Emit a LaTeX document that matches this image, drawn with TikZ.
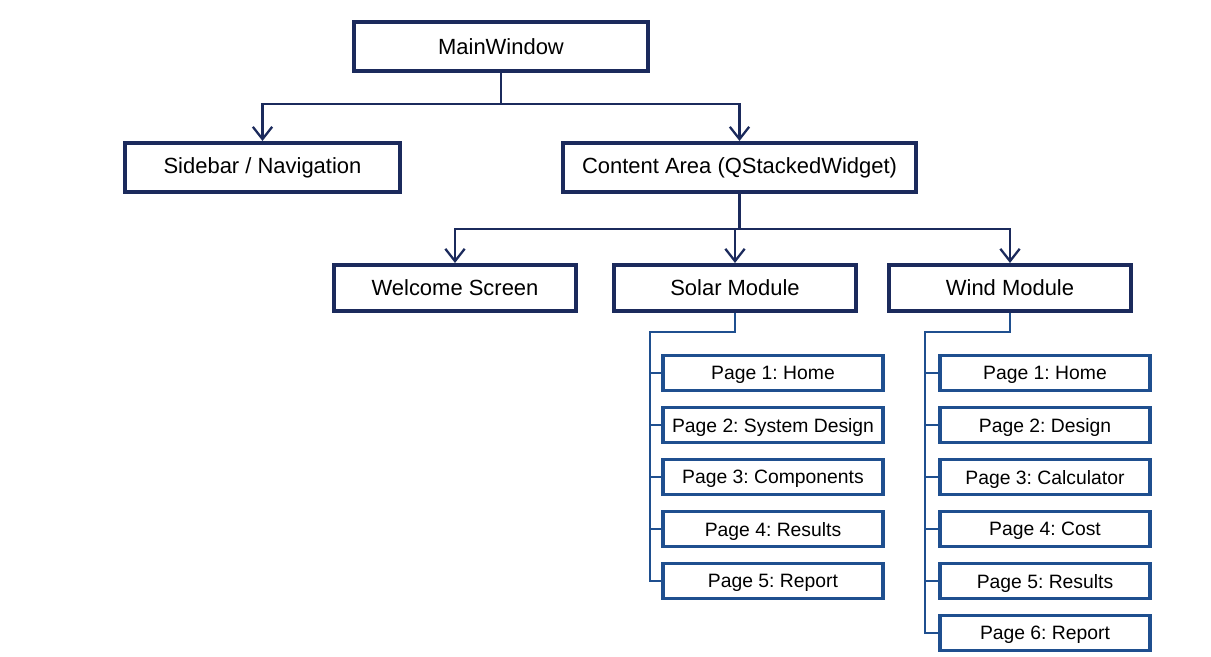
\documentclass[tikz,border=0pt]{standalone}
\usepackage{fontspec}
\setmainfont{Liberation Sans}
\usetikzlibrary{arrows.meta, positioning}

\definecolor{navy}{HTML}{1B2A5C}
\definecolor{pageblue}{HTML}{1F4F8F}

\begin{document}
\frenchspacing
\begin{tikzpicture}[
  node distance = 0.27cm,
  topbox/.style  = {draw=navy, line width=2.3pt, fill=white, rectangle,
                    minimum height=0.98cm,
                    align=center, font=\fontsize{12.5}{14}\selectfont},
  modbox/.style  = {topbox, minimum height=0.92cm, minimum width=4.84cm},
  pagebox/.style = {draw=pageblue, line width=2pt, fill=white, rectangle,
                    minimum height=0.7cm, inner xsep=2pt, text depth=0pt,
                    align=center, font=\fontsize{11}{13}\selectfont},
  solarpg/.style = {pagebox, minimum width=4.4cm},
  windpg/.style  = {pagebox, minimum width=4.2cm},
  arr/.style     = {-{Straight Barb[length=7pt, width=11pt]},
                    line width=1.3pt, draw=navy},
  link/.style    = {line width=1.3pt, draw=pageblue}
]

\useasboundingbox (0,0) rectangle (24.22,-13.14);

%── Top level ─────────────────────────────────────────────────────────────
\node[topbox, minimum width=5.88cm] (main) at (10.02,-0.93) {MainWindow};

\node[topbox, minimum width=5.5cm] (sidebar) at (5.25,-3.35)
  {Sidebar / Navigation};

\node[topbox, minimum width=7.06cm] (content) at (14.79,-3.35)
  {Content Area (QStackedWidget)};

%── Stacked pages ─────────────────────────────────────────────────────────
\node[modbox] (welcome) at (9.10,-5.76) {Welcome Screen};
\node[modbox] (solar)   at (14.70,-5.76) {Solar Module};
\node[modbox] (wind)    at (20.20,-5.76) {Wind Module};

%── Solar pages ───────────────────────────────────────────────────────────
\node[solarpg] (sp1) at (15.46,-7.46) {Page 1: Home};
\node[solarpg, below=of sp1] (sp2) {Page 2: System Design};
\node[solarpg, below=of sp2] (sp3) {Page 3: Components};
\node[solarpg, below=of sp3] (sp4) {Page 4: Results};
\node[solarpg, below=of sp4] (sp5) {Page 5: Report};

%── Wind pages ────────────────────────────────────────────────────────────
\node[windpg] (wp1) at (20.90,-7.46) {Page 1: Home};
\node[windpg, below=of wp1] (wp2) {Page 2: Design};
\node[windpg, below=of wp2] (wp3) {Page 3: Calculator};
\node[windpg, below=of wp3] (wp4) {Page 4: Cost};
\node[windpg, below=of wp4] (wp5) {Page 5: Results};
\node[windpg, below=of wp5] (wp6) {Page 6: Report};

%── Arrows ────────────────────────────────────────────────────────────────
\draw[arr] (main.south) -- ++(0,-0.62) -| (sidebar.north);
\draw[arr] (main.south) -- ++(0,-0.62) -| (content.north);

\draw[arr] (content.south) -- ++(0,-0.7) -| (welcome.north);
\draw[arr] (content.south) -- ++(0,-0.7) -| (solar.north);
\draw[arr] (content.south) -- ++(0,-0.7) -| (wind.north);

%── Page links ────────────────────────────────────────────────────────────
\coordinate (strunk) at (13.0,-6.64);
\draw[link] (solar.south) |- (strunk) -- (strunk |- sp5.west) -- (sp5.west);
\draw[link] (strunk |- sp1.west) -- (sp1.west);
\draw[link] (strunk |- sp2.west) -- (sp2.west);
\draw[link] (strunk |- sp3.west) -- (sp3.west);
\draw[link] (strunk |- sp4.west) -- (sp4.west);

\coordinate (wtrunk) at (18.5,-6.64);
\draw[link] (wind.south) |- (wtrunk) -- (wtrunk |- wp6.west) -- (wp6.west);
\draw[link] (wtrunk |- wp1.west) -- (wp1.west);
\draw[link] (wtrunk |- wp2.west) -- (wp2.west);
\draw[link] (wtrunk |- wp3.west) -- (wp3.west);
\draw[link] (wtrunk |- wp4.west) -- (wp4.west);
\draw[link] (wtrunk |- wp5.west) -- (wp5.west);

\end{tikzpicture}
\end{document}
